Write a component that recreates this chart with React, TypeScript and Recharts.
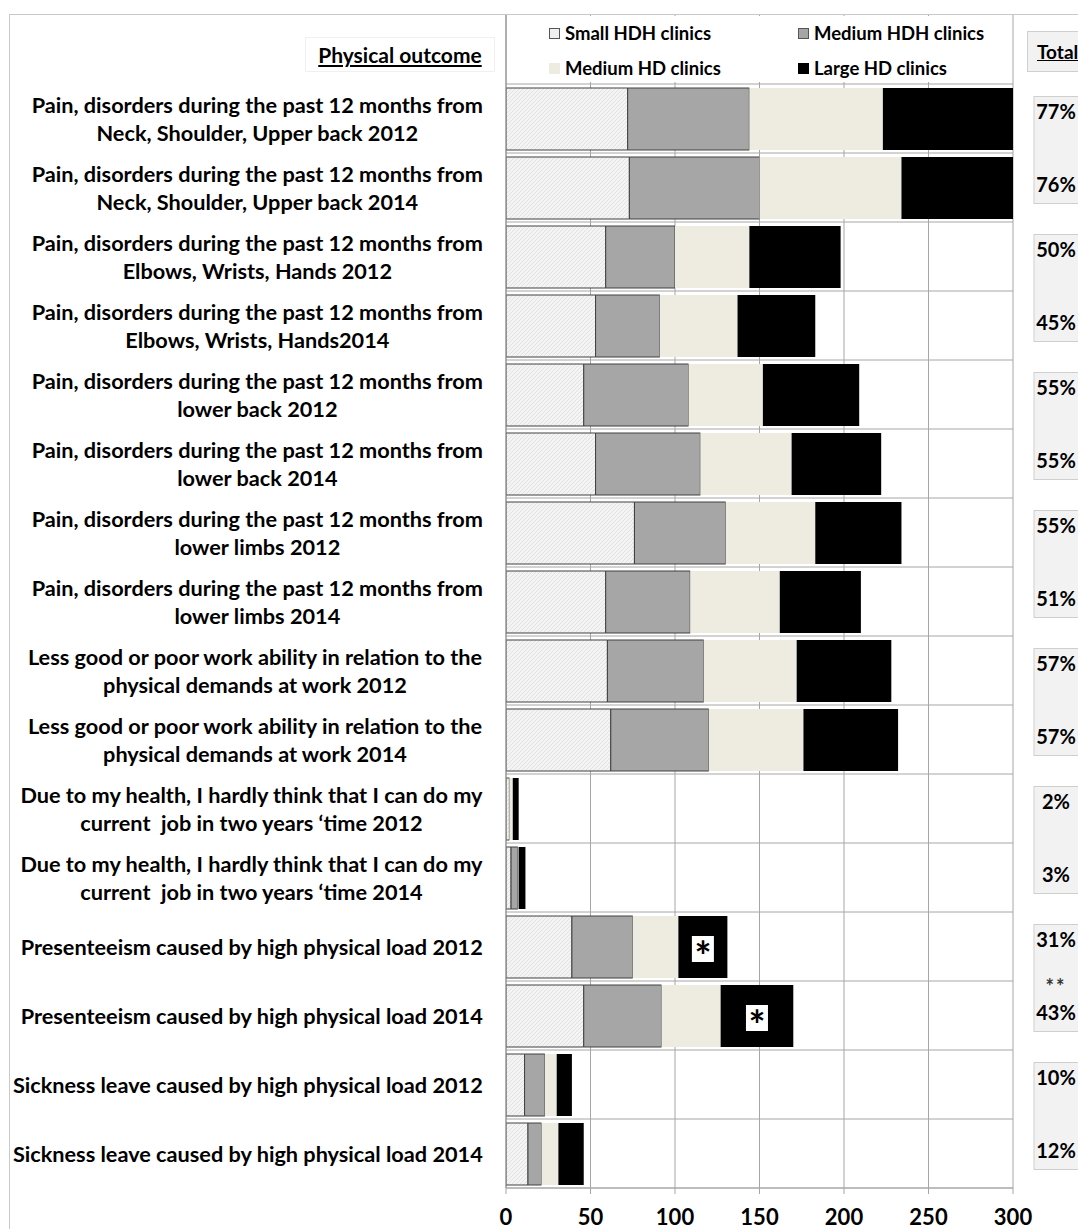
import React from "react";
import { BarChart, Bar, XAxis, YAxis, CartesianGrid, Legend, LabelList } from "recharts";

const categories = [
  "Pain, disorders during the past 12 months from\nNeck, Shoulder, Upper back 2012",
  "Pain, disorders during the past 12 months from\nNeck, Shoulder, Upper back 2014",
  "Pain, disorders during the past 12 months from\nElbows, Wrists, Hands 2012",
  "Pain, disorders during the past 12 months from\nElbows, Wrists, Hands2014",
  "Pain, disorders during the past 12 months from\nlower back 2012",
  "Pain, disorders during the past 12 months from\nlower back 2014",
  "Pain, disorders during the past 12 months from\nlower limbs 2012",
  "Pain, disorders during the past 12 months from\nlower limbs 2014",
  "Less good or poor work ability in relation to the\nphysical demands at work 2012",
  "Less good or poor work ability in relation to the\nphysical demands at work 2014",
  "Due to my health, I hardly think that I can do my\ncurrent  job in two years \u2018time 2012",
  "Due to my health, I hardly think that I can do my\ncurrent  job in two years \u2018time 2014",
  "Presenteeism caused by high physical load 2012",
  "Presenteeism caused by high physical load 2014",
  "Sickness leave caused by high physical load 2012",
  "Sickness leave caused by high physical load 2014",
];

const smallHdh = [72, 73, 59, 53, 46, 53, 76, 59, 60, 62, 2, 3, 39, 46, 11, 13];
const mediumHdh = [72, 77, 41, 38, 62, 62, 54, 50, 57, 58, 0, 4, 36, 46, 12, 8];
const mediumHd = [79, 84, 44, 46, 44, 54, 53, 53, 55, 56, 2, 0.5, 27, 35, 7, 10];
const largeHd = [77, 66, 54, 46, 57, 53, 51, 48, 56, 56, 3.5, 4, 29, 43, 9, 15];
const largeMarks = ["", "", "", "", "", "", "", "", "", "", "", "", "*", "*", "", ""];

const totals = ["77%", "76%", "50%", "45%", "55%", "55%", "55%", "51%", "57%", "57%", "2%", "3%", "31%", "43%", "10%", "12%"];
const totalNotes = ["", "", "", "", "", "", "", "", "", "", "", "", "", "**", "", ""];

const xTicks = [0, 50, 100, 150, 200, 250, 300];

const data = categories.map((cat, i) => ({
  cat,
  small: smallHdh[i],
  medHdh: mediumHdh[i],
  medHd: mediumHd[i],
  large: largeHd[i],
  mark: largeMarks[i],
  total: totals[i],
}));

const FONT = "Lato, 'Open Sans', sans-serif";
const LABEL_SIZE = 21.7;
const ROW_H = 69;
const PAD_TOP = 69;
const GRID = "#a6a6a6";
const seriesOrder = ["small", "medHdh", "medHd", "large"];

let ctx: CanvasRenderingContext2D | null = null;
const textWidth = (t: string) => {
  if (!ctx) ctx = document.createElement("canvas").getContext("2d");
  if (!ctx) return t.length * 10;
  ctx.font = `bold ${LABEL_SIZE}px ${FONT}`;
  return ctx.measureText(t).width;
};

const CategoryTick = (props: any) => {
  const { y, payload } = props;
  const lines: string[] = String(payload.value).split("\n");
  const w = Math.max(...lines.map(textWidth));
  const cx = 483 - w / 2;
  const offs = lines.length === 2 ? [-14, 14] : [0];
  return (
    <g>
      {lines.map((l, i) => (
        <text
          key={i}
          x={cx}
          y={y + offs[i]}
          textAnchor="middle"
          dominantBaseline="central"
          fontSize={LABEL_SIZE}
          fontWeight={700}
          fontFamily={FONT}
          fill="#000"
          style={{ whiteSpace: "pre" }}
        >
          {l}
        </text>
      ))}
    </g>
  );
};

const TotalTick = (props: any) => {
  const { y, index } = props;
  const even = index % 2 === 0;
  const note = totalNotes[index];
  return (
    <g>
      {even && (
        <rect x={1034} y={y - 22} width={70} height={ROW_H + 38} fill="#f2f2f2" stroke="#cfcfcf" />
      )}
      {note && (
        <text x={1056} y={y - 30} textAnchor="middle" dominantBaseline="central" fontSize={20} fontWeight={700} fontFamily={FONT} fill="#333" letterSpacing={2}>
          {note}
        </text>
      )}
      <text
        x={1056}
        y={even ? y - 8 : y - 4}
        textAnchor="middle"
        dominantBaseline="central"
        fontSize={20}
        fontWeight={700}
        fontFamily={FONT}
        fill="#000"
      >
        {totals[index]}
      </text>
    </g>
  );
};

const MarkLabel = (props: any) => {
  const { x, y, width, height, value } = props;
  if (!value) return null;
  const cx = x + width / 2;
  const cy = y + height / 2;
  return (
    <g>
      <rect x={cx - 11} y={cy - 11} width={22} height={26} fill="#fff" />
      <text x={cx} y={cy + 9} textAnchor="middle" dominantBaseline="central" fontSize={40} fontWeight={700} fontFamily={FONT} fill="#000">
        {value}
      </text>
    </g>
  );
};

const swatches: Record<string, React.CSSProperties> = {
  small: { background: "#f0f0f0", border: "1px solid #555" },
  medHdh: { background: "#a6a6a6", border: "1px solid #555" },
  medHd: { background: "#eeebe0" },
  large: { background: "#000" },
};

const LegendBox = (props: any) => {
  const items = [...(props.payload || [])].sort(
    (a: any, b: any) => seriesOrder.indexOf(a.dataKey) - seriesOrder.indexOf(b.dataKey)
  );
  return (
    <div style={{ position: "relative", width: 498, height: 66, background: "#fff" }}>
      {items.map((e: any, i: number) => {
        const col = i % 2;
        const row = Math.floor(i / 2);
        return (
          <div
            key={e.dataKey}
            style={{
              position: "absolute",
              left: 42 + col * 249,
              top: 17 + row * 35 - 11,
              height: 22,
              display: "flex",
              alignItems: "center",
              fontFamily: FONT,
              fontWeight: 700,
              fontSize: 18.5,
              color: "#000",
              whiteSpace: "nowrap",
            }}
          >
            <span style={{ width: 11, height: 11, boxSizing: "border-box", marginRight: 5, ...swatches[e.dataKey] }} />
            {e.value}
          </div>
        );
      })}
    </div>
  );
};

export default function App() {
  return (
    <div style={{ position: "absolute", left: 0, top: 0, width: 1078, height: 1229, overflow: "hidden", background: "#fff" }}>
      <div style={{ position: "absolute", left: 9, top: 14, width: 1200, height: 1300, borderTop: "1.5px solid #c9c9c9", borderLeft: "1.5px solid #c9c9c9" }} />
      <BarChart
        width={1078}
        height={1229}
        data={data}
        layout="vertical"
        margin={{ top: 15, right: 0, left: 0, bottom: 0 }}
        barSize={62}
      >
        <defs>
          <pattern id="hatch" width="4" height="4" patternUnits="userSpaceOnUse">
            <rect width="4" height="4" fill="#f4f4f4" />
            <path d="M0,4 L4,0 M-1,1 L1,-1 M3,5 L5,3" stroke="#dcdcdc" strokeWidth="0.8" />
          </pattern>
        </defs>
        <CartesianGrid
          stroke={GRID}
          horizontalCoordinatesGenerator={({ offset }: any) => {
            const top = (offset?.top ?? 15) + PAD_TOP;
            return categories.map((_, i) => top + i * ROW_H).concat([top + categories.length * ROW_H]);
          }}
        />
        <XAxis
          type="number"
          domain={[0, 300]}
          ticks={xTicks}
          allowDataOverflow
          height={41}
          tickSize={6}
          tickMargin={15}
          axisLine={{ stroke: GRID }}
          tickLine={{ stroke: GRID }}
          tick={{ fontSize: 22, fontWeight: 700, fill: "#000", fontFamily: FONT }}
        />
        <YAxis
          type="category"
          dataKey="cat"
          width={506}
          interval={0}
          padding={{ top: PAD_TOP, bottom: 0 }}
          axisLine={{ stroke: "#8c8c8c" }}
          tickLine={false}
          tick={<CategoryTick />}
        />
        <YAxis
          yAxisId="right"
          orientation="right"
          type="category"
          dataKey="cat"
          width={65}
          interval={0}
          padding={{ top: PAD_TOP, bottom: 0 }}
          axisLine={false}
          tickLine={false}
          tick={<TotalTick />}
        />
        <Legend
          layout="horizontal"
          verticalAlign="middle"
          align="center"
          content={<LegendBox />}
          wrapperStyle={{ position: "absolute", left: 507, top: 16, width: 498, height: 66 }}
        />
        <Bar dataKey="small" name="Small HDH clinics" stackId="s" fill="url(#hatch)" stroke="#404040" strokeWidth={1} isAnimationActive={false} />
        <Bar dataKey="medHdh" name="Medium HDH clinics" stackId="s" fill="#a6a6a6" stroke="#404040" strokeWidth={1} isAnimationActive={false} />
        <Bar dataKey="medHd" name="Medium HD clinics" stackId="s" fill="#eeebe0" isAnimationActive={false} />
        <Bar dataKey="large" name="Large HD clinics" stackId="s" fill="#000" isAnimationActive={false}>
          <LabelList dataKey="mark" content={<MarkLabel />} />
        </Bar>
      </BarChart>
      <div
        style={{
          position: "absolute",
          left: 305,
          top: 37,
          width: 190,
          height: 35,
          border: "1px solid #f0f0f0",
          boxSizing: "border-box",
          display: "flex",
          alignItems: "center",
          justifyContent: "center",
          fontFamily: FONT,
          fontWeight: 700,
          fontSize: 21,
          textDecoration: "underline",
        }}
      >
        Physical outcome
      </div>
      <div
        style={{
          position: "absolute",
          left: 1027,
          top: 31,
          width: 80,
          height: 41,
          background: "#f2f2f2",
          border: "1px solid #cfcfcf",
          boxSizing: "border-box",
          paddingLeft: 9,
          display: "flex",
          alignItems: "center",
          fontFamily: FONT,
          fontWeight: 700,
          fontSize: 19,
          textDecoration: "underline",
        }}
      >
        Total
      </div>
    </div>
  );
}
